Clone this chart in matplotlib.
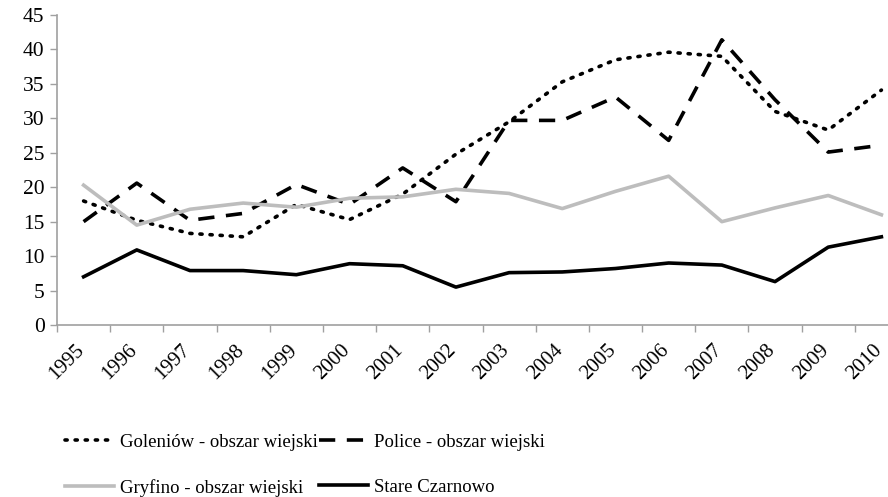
import matplotlib
matplotlib.use("Agg")
import matplotlib.pyplot as plt
import matplotlib.transforms as mtransforms
import numpy as np

years = [str(y) for y in range(1995, 2011)]
goleniow = [18.0, 15.2, 13.3, 12.8, 17.5, 15.3, 19.0, 24.8, 29.5, 35.3, 38.5, 39.6, 39.0, 31.0, 28.3, 34.1]
police = [15.0, 20.6, 15.2, 16.2, 20.4, 17.5, 22.8, 17.9, 29.7, 29.7, 33.1, 26.8, 41.4, 32.7, 25.1, 26.1]
gryfino = [20.3, 14.5, 16.8, 17.7, 17.1, 18.4, 18.6, 19.7, 19.1, 16.9, 19.4, 21.6, 15.0, 17.0, 18.8, 16.0]
stare = [7.0, 10.9, 7.9, 7.9, 7.3, 8.9, 8.6, 5.5, 7.6, 7.7, 8.2, 9.0, 8.7, 6.3, 11.3, 12.8]

labels = ["Goleniów - obszar wiejski", "Police - obszar wiejski",
          "Gryfino - obszar wiejski", "Stare Czarnowo"]

plt.rcParams['font.family'] = ['Liberation Serif', 'DejaVu Serif']

fig = plt.figure(figsize=(8.88, 4.97), dpi=100)
W, H = 888, 497
x0, x1, ytop, ybot = 57, 908, 15, 325
ax = fig.add_axes([x0 / W, (H - ybot) / H, (x1 - x0) / W, (ybot - ytop) / H])

x = np.arange(len(years))
l1, = ax.plot(x, goleniow, color='black', lw=2.6, linestyle=(0, (0.6, 2.2)),
              dash_capstyle='round', label=labels[0])
l2, = ax.plot(x, police, color='black', lw=2.6, linestyle=(0, (4.5, 3.2)), label=labels[1])
l3, = ax.plot(x, gryfino, color='#bdbdbd', lw=2.6, label=labels[2])
l4, = ax.plot(x, stare, color='black', lw=2.6, label=labels[3])

ax.set_xlim(-0.5, len(years) - 0.5)
ax.set_ylim(0, 45)
ax.set_yticks(np.arange(0, 46, 5))
ax.set_xticks(x)
ax.set_xticklabels([])
label_tr = ax.get_xaxis_transform() + mtransforms.ScaledTranslation(-9 / 100, -16 / 100, fig.dpi_scale_trans)
for xi, yr in zip(x, years):
    ax.text(xi, 0, yr, transform=label_tr, rotation=45, ha='right', va='top',
            rotation_mode='anchor', fontsize=15, clip_on=False)
ax.set_xticks(np.arange(-0.5, len(years), 1), minor=True)
ax.tick_params(axis='x', which='major', length=0)
ax.tick_params(axis='x', which='minor', length=5, color='#a0a0a0', width=1)
ax.tick_params(axis='y', length=5, color='#a0a0a0', width=1, labelsize=15.5, pad=4)

for s in ['top', 'right']:
    ax.spines[s].set_visible(False)
for s in ['left', 'bottom']:
    ax.spines[s].set_color('#a0a0a0')
    ax.spines[s].set_linewidth(1.2)

fig.legend(handles=[l1, l3, l2, l4], labels=[labels[0], labels[2], labels[1], labels[3]],
           ncol=2, frameon=False,
           loc='center', bbox_to_anchor=(305 / W, 1 - 465 / H), fontsize=13.5,
           handlelength=2.6, handletextpad=0.3, columnspacing=0.1, labelspacing=1.5)

fig.savefig('out.png', dpi=100)
